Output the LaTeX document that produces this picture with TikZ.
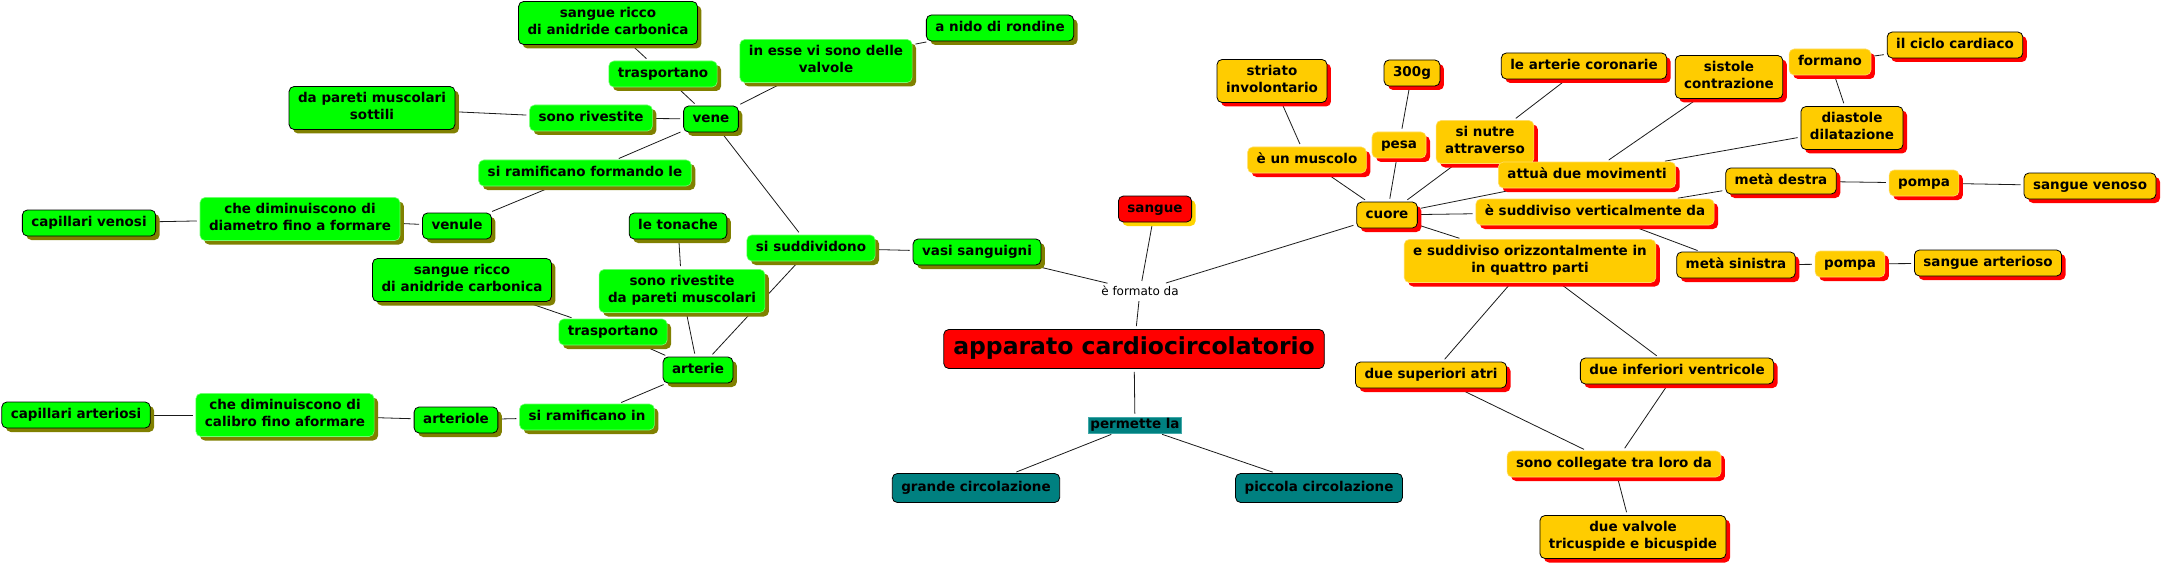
\documentclass[tikz,border=0pt]{standalone}
\usepackage{fontspec}
\setmainfont{DejaVu Sans}
\usetikzlibrary{shadows}
\pgfdeclarelayer{bg}
\pgfsetlayers{bg,main}
\definecolor{gfill}{HTML}{00FF00}
\definecolor{gshad}{HTML}{808000}
\definecolor{gedge}{HTML}{70FF70}
\definecolor{yfill}{HTML}{FFCC00}
\definecolor{yshad}{HTML}{FF0000}
\definecolor{yedge}{HTML}{FFDD66}
\definecolor{rfill}{HTML}{FF0000}
\definecolor{sshad}{HTML}{FFD400}
\definecolor{tfill}{HTML}{008080}
\definecolor{tedge}{HTML}{40A8A8}
\definecolor{lnk}{HTML}{1A1A1A}
\newcommand\nf{\fontsize{13.5}{17}\selectfont\bfseries}
\newcommand\tf{\fontsize{23.5}{29}\selectfont\bfseries}
\newcommand\ff{\fontsize{12}{14}\selectfont}
\begin{document}
\begin{tikzpicture}[x=1pt,y=-1pt,
  base/.style={rounded corners=5pt, inner xsep=9pt, inner ysep=4.5pt, align=center, font=\nf, text=black, line width=0.8pt},
  gb/.style={base, fill=gfill, draw=black, drop shadow={shadow xshift=4pt, shadow yshift=-4pt, fill=gshad, opacity=1}},
  gp/.style={base, fill=gfill, draw=gedge, line width=0.6pt, drop shadow={shadow xshift=4pt, shadow yshift=-4pt, fill=gshad, opacity=1}},
  yb/.style={base, fill=yfill, draw=black, drop shadow={shadow xshift=4pt, shadow yshift=-4pt, fill=yshad, opacity=1}},
  yp/.style={base, fill=yfill, draw=yedge, line width=0.6pt, drop shadow={shadow xshift=4pt, shadow yshift=-4pt, fill=yshad, opacity=1}},
  rb/.style={base, fill=rfill, draw=black, drop shadow={shadow xshift=4pt, shadow yshift=-4pt, fill=sshad, opacity=1}},
  titlebox/.style={base, font=\tf, inner xsep=9.5pt, inner ysep=5pt, fill=rfill, draw=black},
  tb/.style={base, inner ysep=6pt, fill=tfill, draw=black},
  tp/.style={font=\nf, fill=tfill, draw=tedge, line width=0.6pt, inner xsep=2pt, inner ysep=1.5pt, text height=10pt, text depth=3pt},
  phrase/.style={font=\ff, inner sep=2pt},
  edge/.style={draw=lnk, line width=0.8pt, shorten >=3pt, shorten <=3pt}
]
\useasboundingbox (0,0) rectangle (2163,567);

% green (vasi sanguigni)
\node[gb] (g1) at (608,23) {\strut sangue ricco\\\strut di anidride carbonica};
\node[gp] (g2) at (663,74) {\strut trasportano};
\node[gp] (g3) at (826,61) {\strut in esse vi sono delle\\\strut valvole};
\node[gb] (g4) at (1000,28) {\strut a nido di rondine};
\node[gb] (g5) at (372,108) {\strut da pareti muscolari\\\strut sottili};
\node[gp] (g6) at (591,118) {\strut sono rivestite};
\node[gb] (g7) at (711,119) {\strut vene};
\node[gp] (g8) at (585,173) {\strut si ramificano formando le};
\node[gp] (g9) at (300,219) {\strut che diminuiscono di\\\strut diametro fino a formare};
\node[gb] (g10) at (89,223) {\strut capillari venosi};
\node[gb] (g11) at (457,226) {\strut venule};
\node[gb] (g12) at (678,226) {\strut le tonache};
\node[gp] (g13) at (811,248) {\strut si suddividono};
\node[gb] (g14) at (977,252) {\strut vasi sanguigni};
\node[gb] (g15) at (462,280) {\strut sangue ricco\\\strut di anidride carbonica};
\node[gp] (g16) at (682,291) {\strut sono rivestite\\\strut da pareti muscolari};
\node[gp] (g17) at (613,332) {\strut trasportano};
\node[gb] (g18) at (698,370) {\strut arterie};
\node[gp] (g19) at (285,415) {\strut che diminuiscono di\\\strut calibro fino aformare};
\node[gb] (g20) at (76,415) {\strut capillari arteriosi};
\node[gb] (g21) at (456,420) {\strut arteriole};
\node[gp] (g22) at (587,417) {\strut si ramificano in};

% centre
\node[rb] (sangue) at (1155,209) {\strut sangue};
\node[phrase] (formato) at (1140,291) {è formato da};
\node[titlebox] (title) at (1134,349) {\strut apparato cardiocircolatorio};
\node[tp] (permette) at (1135,425) {permette la};
\node[tb] (grande) at (976,488) {\strut grande circolazione};
\node[tb] (piccola) at (1319,488) {\strut piccola circolazione};

% yellow (cuore)
\node[yb] (cuore) at (1387,215) {\strut cuore};
\node[yb] (striato) at (1272,81) {\strut striato\\\strut involontario};
\node[yb] (peso) at (1412,73) {\strut 300g};
\node[yp] (muscolo) at (1307,160) {\strut è un muscolo};
\node[yp] (pesa) at (1399,145) {\strut pesa};
\node[yp] (nutre) at (1485,142) {\strut si nutre\\\strut attraverso};
\node[yb] (coronarie) at (1584,66) {\strut le arterie coronarie};
\node[yb] (sistole) at (1729,77) {\strut sistole\\\strut contrazione};
\node[yp] (formano) at (1830,62) {\strut formano};
\node[yb] (ciclo) at (1955,45) {\strut il ciclo cardiaco};
\node[yb] (diastole) at (1852,128) {\strut diastole\\\strut dilatazione};
\node[yp] (attua) at (1587,175) {\strut attuà due movimenti};
\node[yb] (destra) at (1781,181) {\strut metà destra};
\node[yp] (pompaA) at (1924,183) {\strut pompa};
\node[yb] (venoso) at (2090,186) {\strut sangue venoso};
\node[yp] (vert) at (1595,212) {\strut è suddiviso verticalmente da};
\node[yp] (oriz) at (1530,261) {\strut e suddiviso orizzontalmente in\\\strut in quattro parti};
\node[yb] (sinistra) at (1736,265) {\strut metà sinistra};
\node[yp] (pompaB) at (1850,264) {\strut pompa};
\node[yb] (arterioso) at (1988,263) {\strut sangue arterioso};
\node[yb] (atri) at (1431,375) {\strut due superiori atri};
\node[yb] (ventricole) at (1677,371) {\strut due inferiori ventricole};
\node[yp] (collegate) at (1614,464) {\strut sono collegate tra loro da};
\node[yb] (valvole) at (1633,537) {\strut due valvole\\\strut tricuspide e bicuspide};

\begin{pgfonlayer}{bg}
\fill[white] (0,0) rectangle (2163,567);
\draw[edge] (g1) -- (g2);
\draw[edge] (g2) -- (g7);
\draw[edge] (g7) -- (g3);
\draw[edge] (g3) -- (g4);
\draw[edge] (g5) -- (g6);
\draw[edge] (g6) -- (g7);
\draw[edge] (g7) -- (g8);
\draw[edge] (g8) -- (g11);
\draw[edge] (g11) -- (g9);
\draw[edge] (g9) -- (g10);
\draw[edge] (g7) -- (g13);
\draw[edge] (g13) -- (g14);
\draw[edge] (g12) -- (g16);
\draw[edge] (g16) -- (g18);
\draw[edge] (g13) -- (g18);
\draw[edge] (g15) -- (g17);
\draw[edge] (g17) -- (g18);
\draw[edge] (g18) -- (g22);
\draw[edge] (g22) -- (g21);
\draw[edge] (g21) -- (g19);
\draw[edge] (g19) -- (g20);
\draw[edge] (g14) -- (formato);
\draw[edge] (sangue) -- (formato);
\draw[edge] (cuore) -- (formato);
\draw[edge] (formato) -- (title);
\draw[edge] (title) -- (permette);
\draw[edge] (permette) -- (grande);
\draw[edge] (permette) -- (piccola);
\draw[edge] (striato) -- (muscolo);
\draw[edge] (muscolo) -- (cuore);
\draw[edge] (peso) -- (pesa);
\draw[edge] (pesa) -- (cuore);
\draw[edge] (coronarie) -- (nutre);
\draw[edge] (nutre) -- (cuore);
\draw[edge] (sistole) -- (attua);
\draw[edge] (diastole) -- (attua);
\draw[edge] (attua) -- (cuore);
\draw[edge] (sistole) -- (formano);
\draw[edge] (formano) -- (diastole);
\draw[edge] (formano) -- (ciclo);
\draw[edge] (cuore) -- (vert);
\draw[edge] (vert) -- (destra);
\draw[edge] (vert) -- (sinistra);
\draw[edge] (destra) -- (pompaA);
\draw[edge] (pompaA) -- (venoso);
\draw[edge] (sinistra) -- (pompaB);
\draw[edge] (pompaB) -- (arterioso);
\draw[edge] (cuore) -- (oriz);
\draw[edge] (oriz) -- (atri);
\draw[edge] (oriz) -- (ventricole);
\draw[edge] (atri) -- (collegate);
\draw[edge] (ventricole) -- (collegate);
\draw[edge] (collegate) -- (valvole);
\end{pgfonlayer}
\end{tikzpicture}
\end{document}
